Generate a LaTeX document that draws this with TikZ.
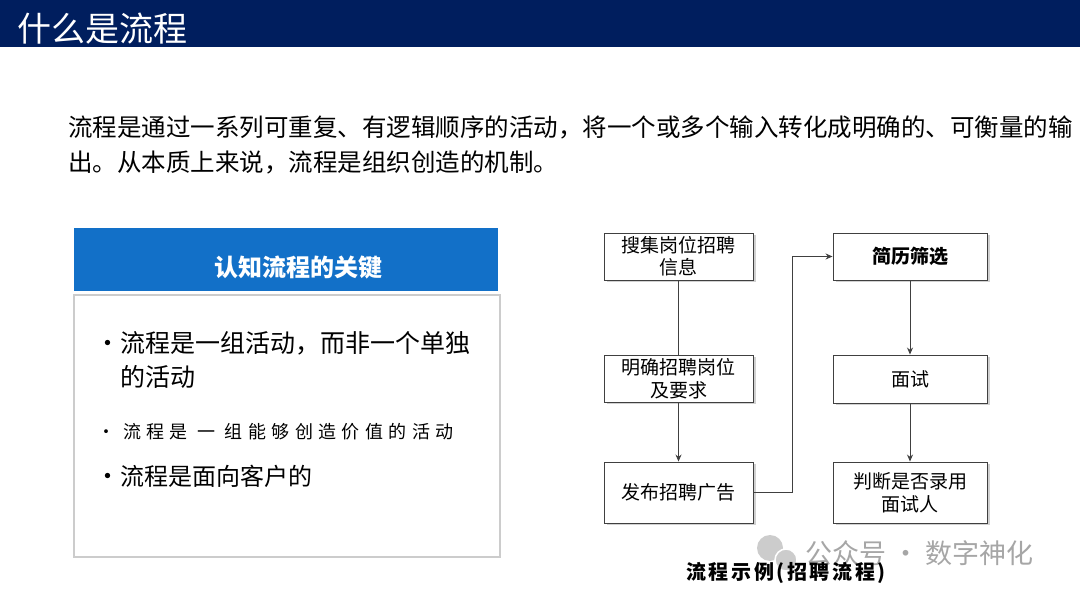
\documentclass[tikz,border=0pt]{standalone}
\usepackage{fontspec}
\setmainfont{Noto Sans CJK SC}
\usetikzlibrary{positioning,arrows.meta,shadows}

\definecolor{navybar}{RGB}{0,30,94}
\definecolor{keyblue}{RGB}{18,112,200}
\newcommand{\fsz}[2]{\fontsize{#1}{#2}\selectfont}

\begin{document}
\begin{tikzpicture}[x=1pt,y=-1pt,>={Stealth[length=7pt,width=6pt]},
	txtnode/.style={inner sep=0pt,anchor=base west},
	flownode/.style={rectangle,draw=black!75,line width=0.9pt,fill=white,inner sep=2pt,align=center,font=\fsz{19}{23},drop shadow={shadow xshift=2.5pt,shadow yshift=-2.5pt,fill=black!30,opacity=0.6}},
	flowline/.style={line width=0.9pt,draw=black!75}]
	\useasboundingbox (0,0) rectangle (1080,601);
	% title bar
	\fill[navybar] (0,0) rectangle (1080,47);
	\node [txtnode,text=white] (title) at (17,42) {\fsz{34}{34}什么是流程};
	% paragraph
	\node [txtnode] (p1) at (68,137) {\fsz{24.5}{35}流程是通过一系列可重复、有逻辑顺序的活动，将一个或多个输入转化成明确的、可衡量的输};
	\node [txtnode] (p2) at (68,172) {\fsz{24.5}{35}出。从本质上来说，流程是组织创造的机制。};
	% key box
	\fill[keyblue] (74,228) rectangle (498,291);
	\draw[black!20,line width=1.2pt] (74,295) rectangle (500,557);
	\node [text=white,inner sep=0pt] (key) at (298,268) {\fsz{24}{24}\bfseries 认知流程的关键};
	\node [txtnode] (d1) at (95,353) {\fsz{25}{25}·};
	\node [txtnode] (k1) at (120,353) {\fsz{25}{25}流程是一组活动，而非一个单独};
	\node [txtnode] (k1b) at (120,387) {\fsz{25}{25}的活动};
	\node [txtnode] (d2) at (97,439) {\fsz{18}{18}·};
	\node [txtnode] (k2) at (123,439) {\fsz{18}{18}\addfontfeatures{LetterSpace=30}流程是 一 组能够创造价值的活动};
	\node [txtnode] (d3) at (95,486) {\fsz{25}{25}·};
	\node [txtnode] (k3) at (120,486) {\fsz{24}{24}流程是面向客户的};
	% flow chart
	\node [flownode,minimum width=149pt,minimum height=47pt] (b1) at (678.5,256.5) {\raisebox{-3pt}{\shortstack{搜集岗位招聘\\[1pt]信息}}};
	\node [flownode,minimum width=149pt,minimum height=47pt] (b2) at (678.5,378.5) {明确招聘岗位\\及要求};
	\node [flownode,minimum width=149pt,minimum height=61pt] (b3) at (678.5,492.5) {发布招聘广告};
	\node [flownode,minimum width=154pt,minimum height=47pt] (b4) at (910,256.5) {\bfseries 简历筛选};
	\node [flownode,minimum width=154pt,minimum height=48pt] (b5) at (910,379) {面试};
	\node [flownode,minimum width=154pt,minimum height=61pt] (b6) at (910,492.5) {判断是否录用\\面试人};
	\draw[flowline] (b1) -- (b2);
	\draw[flowline,->] (b2) -- (b3);
	\draw[flowline,->] (b3) -- +(113.5,0) |- (b4);
	\draw[flowline,->] (b4) -- (b5);
	\draw[flowline,->] (b5) -- (b6);
	% watermark and caption
	\fill[black!20] (770,548) circle (13);
	\fill[black!20,draw=white,line width=1.5pt] (786,560) circle (11);
	\node [txtnode,text=black!35] (wm) at (805,564) {\fsz{27}{27}公众号 · 数字神化};
	\node [inner sep=0pt] (cap) at (786,573) {\fsz{20}{20}\bfseries\addfontfeatures{LetterSpace=13}流程示例(招聘流程)};
\end{tikzpicture}
\end{document}
